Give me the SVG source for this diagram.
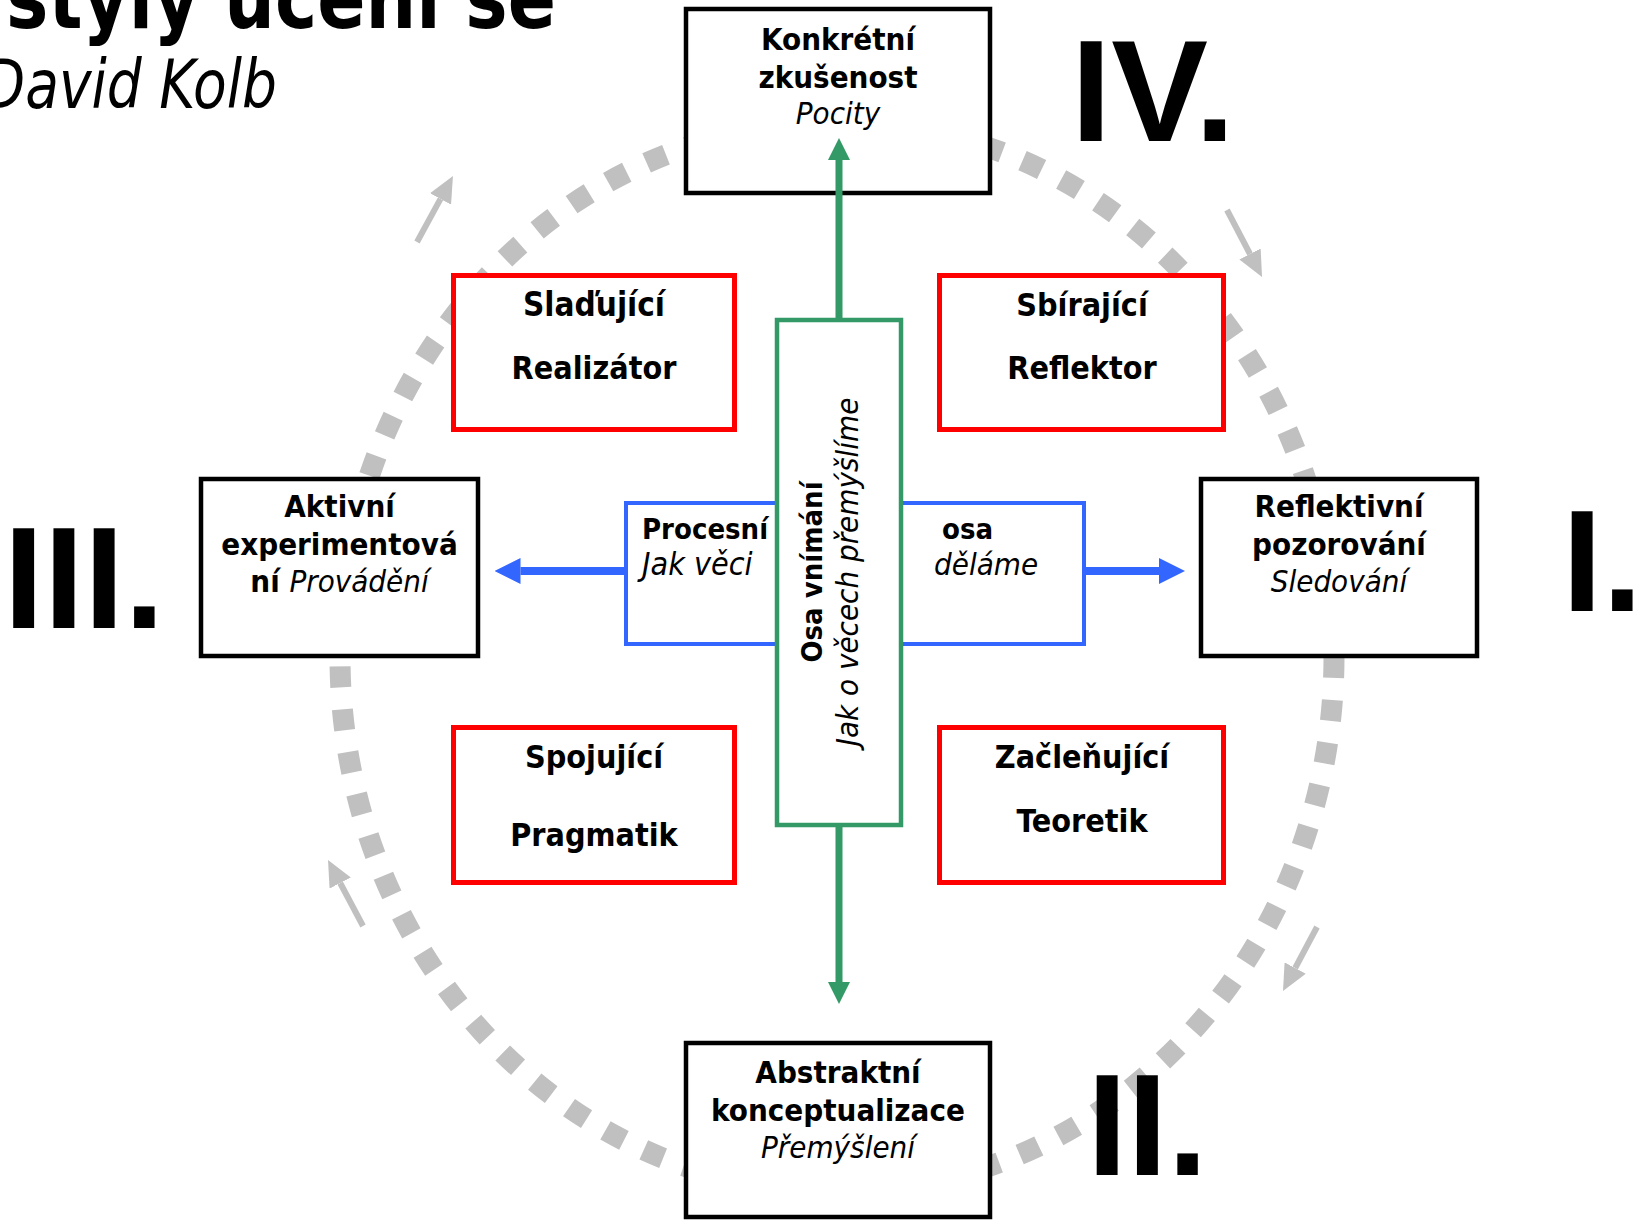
<svg xmlns="http://www.w3.org/2000/svg" width="1636" height="1221" viewBox="0 0 1636 1221">
<style>
text{font-family:"DejaVu Sans Condensed","DejaVu Sans",sans-serif;fill:#000}
.b{font-weight:bold;font-size:31px}
.ax{font-weight:bold;font-size:29px}
.i{font-style:italic;font-weight:normal;font-size:31px}
.c{text-anchor:middle}
.num{font-family:"Liberation Sans",Arial,sans-serif;font-weight:bold;font-size:145px}
.blk{fill:#fff;stroke:#000;stroke-width:4.5}
.red{fill:#fff;stroke:#f00;stroke-width:5}
.ring{fill:none;stroke:#c0c0c0;stroke-width:21;stroke-dasharray:21 22}
.garr{stroke:#c0c0c0;stroke-width:6;fill:none}
.grn{stroke:#339966;stroke-width:7;fill:none}
.blu{stroke:#3366ff;stroke-width:8;fill:none}
</style>
<defs>
<marker id="hg" markerUnits="userSpaceOnUse" markerWidth="26" markerHeight="24" refX="0" refY="12" orient="auto"><path d="M0,0 L26,12 L0,24 z" fill="#c0c0c0"/></marker>
<marker id="hgr" markerUnits="userSpaceOnUse" markerWidth="22" markerHeight="22" refX="0" refY="11" orient="auto"><path d="M0,0 L22,11 L0,22 z" fill="#339966"/></marker>
<marker id="hb" markerUnits="userSpaceOnUse" markerWidth="26" markerHeight="26" refX="0" refY="13" orient="auto"><path d="M0,0 L26,13 L0,26 z" fill="#3366ff"/></marker>
</defs>
<rect width="1636" height="1221" fill="#fff"/>
<g id="title">
<text transform="translate(556,28) scale(0.92,1)" x="0" y="0" class="b" style="font-size:86px;text-anchor:end">styly učení se</text>
<text transform="translate(277,108) scale(0.9,1)" x="0" y="0" class="i" style="font-size:68px;text-anchor:end">David Kolb</text>
</g>
<g id="cycle">
<ellipse class="ring" cx="837" cy="657" rx="497" ry="535"/>
<line class="garr" x1="417" y1="242" x2="440.5" y2="198.9" marker-end="url(#hg)"/>
<line class="garr" x1="1227" y1="210" x2="1250" y2="254" marker-end="url(#hg)"/>
<line class="garr" x1="1317" y1="927" x2="1295.2" y2="968" marker-end="url(#hg)"/>
<line class="garr" x1="363" y1="926" x2="340.2" y2="883" marker-end="url(#hg)"/>
</g>
<g id="numerals">
<text class="num" x="3.5" y="628">III.</text>
<text class="num" x="1562" y="611">I.</text>
<text class="num" x="1071" y="141">IV.</text>
<text class="num" x="1087" y="1175">II.</text>
</g>
<g id="node-konkretni">
<rect class="blk" x="686" y="9" width="304" height="184"/>
<text class="b c" x="838" y="50">Konkrétní</text>
<text class="b c" x="838" y="88">zkušenost</text>
<text class="i c" x="838" y="124">Pocity</text>
</g>
<g id="node-aktivni">
<rect class="blk" x="201" y="479" width="277" height="177"/>
<text class="b c" x="339.5" y="517">Aktivní</text>
<text class="b c" x="339.5" y="555">experimentová</text>
<text class="c" x="339.5" y="592"><tspan class="b">ní </tspan><tspan class="i">Provádění</tspan></text>
</g>
<g id="node-reflektivni">
<rect class="blk" x="1201" y="479" width="276" height="177"/>
<text class="b c" x="1339" y="517">Reflektivní</text>
<text class="b c" x="1339" y="555">pozorování</text>
<text class="i c" x="1339" y="592">Sledování</text>
</g>
<g id="node-abstraktni">
<rect class="blk" x="686" y="1043" width="304" height="174"/>
<text class="b c" x="838" y="1083">Abstraktní</text>
<text class="b c" x="838" y="1121">konceptualizace</text>
<text class="i c" x="838" y="1158">Přemýšlení</text>
</g>
<g id="node-sladujici">
<rect class="red" x="453.5" y="275.5" width="281" height="154"/>
<text class="b c" x="594" y="316" style="font-size:33px">Slaďující</text>
<text class="b c" x="594" y="379" style="font-size:32px">Realizátor</text>
</g>
<g id="node-sbirajici">
<rect class="red" x="939.5" y="275.5" width="284" height="154"/>
<text class="b c" x="1082" y="316" style="font-size:32px">Sbírající</text>
<text class="b c" x="1082" y="379" style="font-size:32px">Reflektor</text>
</g>
<g id="node-spojujici">
<rect class="red" x="453.5" y="727.5" width="281" height="155"/>
<text class="b c" x="594" y="768" style="font-size:32px">Spojující</text>
<text class="b c" x="594" y="846" style="font-size:32px">Pragmatik</text>
</g>
<g id="node-zaclenujici">
<rect class="red" x="939.5" y="727.5" width="284" height="155"/>
<text class="b c" x="1082" y="768" style="font-size:32px">Začleňující</text>
<text class="b c" x="1082" y="832" style="font-size:32px">Teoretik</text>
</g>
<g id="node-procesni-osa">
<rect x="626" y="503" width="458" height="141" fill="#fff" stroke="#3366ff" stroke-width="4"/>
<text class="ax" x="642" y="539">Procesní</text>
<text class="i" x="642" y="575" style="font-size:32px">Jak věci</text>
<text class="ax" x="942" y="539">osa</text>
<text class="i" x="934" y="575">děláme</text>
</g>
<g id="node-osa-vnimani">
<rect x="777" y="320" width="124" height="505" fill="#fff" stroke="#339966" stroke-width="4.5"/>
<text class="ax c" transform="translate(822,572) rotate(-90)" x="0" y="0">Osa vnímání</text>
<text class="i c" transform="translate(858,572) rotate(-90)" x="0" y="0">Jak o věcech přemýšlíme</text>
</g>
<g id="connectors">
<line class="grn" x1="839" y1="318" x2="839" y2="160" marker-end="url(#hgr)"/>
<line class="grn" x1="839" y1="827" x2="839" y2="982" marker-end="url(#hgr)"/>
<line class="blu" x1="624" y1="571" x2="520.5" y2="571" marker-end="url(#hb)"/>
<line class="blu" x1="1086" y1="571" x2="1159" y2="571" marker-end="url(#hb)"/>
</g>
</svg>
